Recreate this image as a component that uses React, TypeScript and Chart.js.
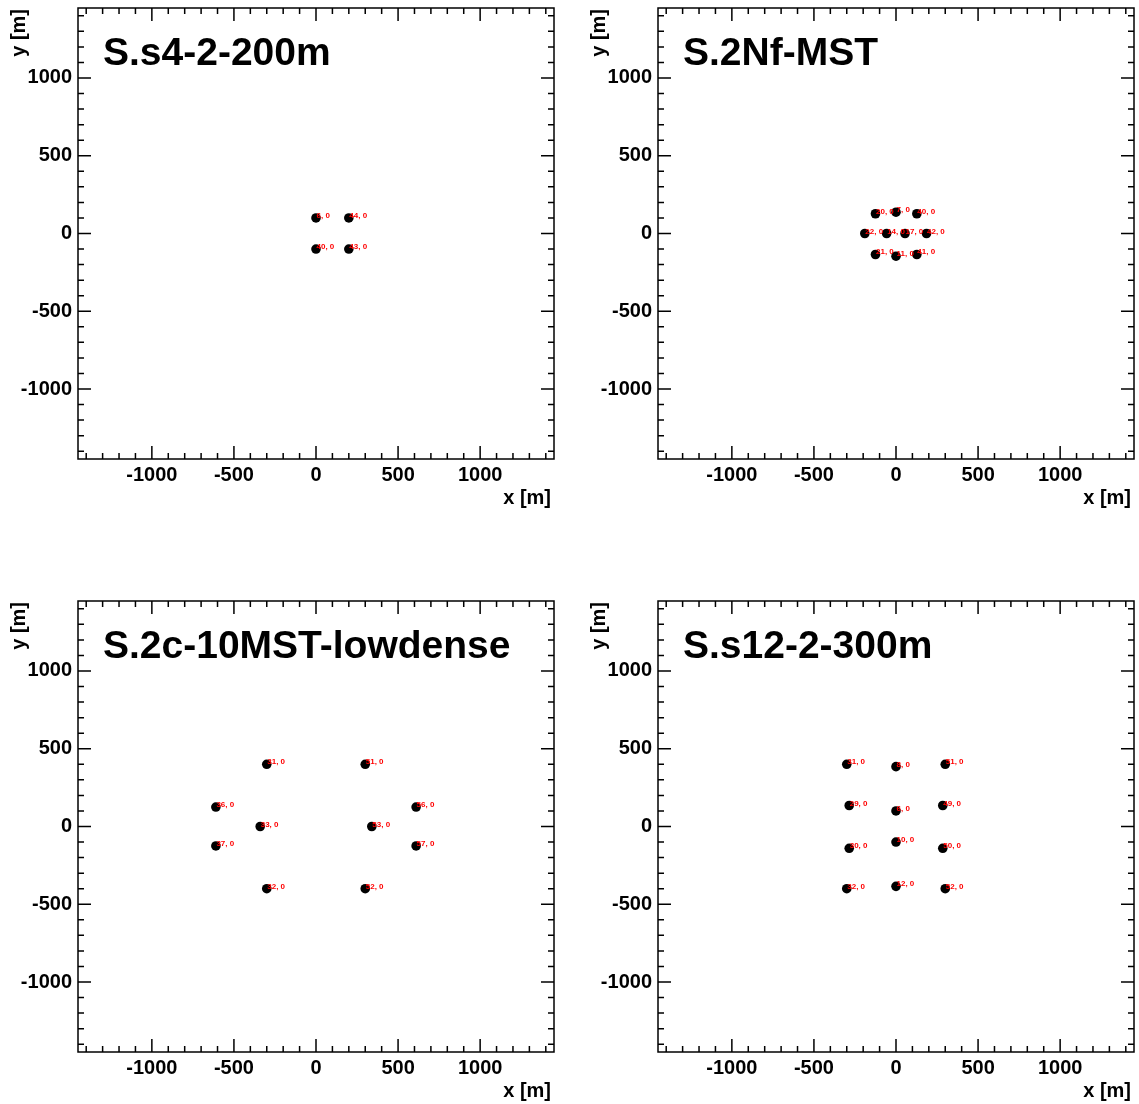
import React, { useEffect, useRef } from "react";
import { Chart, registerables } from "chart.js";

Chart.register(...registerables);

// ---------- data ----------
const tickValues = [-1000, -500, 0, 500, 1000];
const axisMin = -1450;
const axisMax = 1450;

const s4Title = "S.s4-2-200m";
const s4X = [0, 200, 0, 200];
const s4Y = [100, 100, -100, -100];
const s4Labels = ["6, 0", "44, 0", "40, 0", "43, 0"];

const nfTitle = "S.2Nf-MST";
const nfX = [-125, 0, 127, -190, -57, 55, 186, -125, 0, 127];
const nfY = [127, 137, 127, 0, 0, 0, 0, -135, -146, -135];
const nfLabels = ["20, 0", "7, 0", "40, 0", "22, 0", "14, 0", "17, 0", "42, 0", "21, 0", "11, 0", "41, 0"];

const c10Title = "S.2c-10MST-lowdense";
const c10X = [-300, -610, -340, -610, -300, 300, 610, 340, 610, 300];
const c10Y = [400, 125, 0, -125, -400, 400, 125, 0, -125, -400];
const c10Labels = ["31, 0", "36, 0", "33, 0", "37, 0", "32, 0", "51, 0", "56, 0", "53, 0", "57, 0", "52, 0"];

const s12Title = "S.s12-2-300m";
const s12X = [-300, 0, 300, -285, 0, 285, -285, 0, 285, -300, 0, 300];
const s12Y = [400, 385, 400, 135, 100, 135, -140, -100, -140, -400, -385, -400];
const s12Labels = ["31, 0", "8, 0", "51, 0", "29, 0", "6, 0", "49, 0", "30, 0", "10, 0", "50, 0", "32, 0", "12, 0", "52, 0"];

const FONT = "'Liberation Sans', Arial, Helvetica, sans-serif";
const CW = 559;
const CH = 511;

const framePlugin = {
  id: "rootFrame",
  afterDraw(chart: any) {
    const ctx = chart.ctx;
    const a = chart.chartArea;
    const xs = chart.scales.x;
    const ys = chart.scales.y;
    const opts = chart.options.plugins.rootFrame || {};
    ctx.save();
    ctx.strokeStyle = "#000";
    ctx.lineWidth = 1.5;
    ctx.strokeRect(a.left, a.top, a.right - a.left, a.bottom - a.top);
    ctx.beginPath();
    for (let v = -1400; v <= 1400; v += 100) {
      const major = v % 500 === 0;
      const lx = major ? 13 : 6;
      const px = xs.getPixelForValue(v);
      ctx.moveTo(px, a.bottom);
      ctx.lineTo(px, a.bottom - lx);
      ctx.moveTo(px, a.top);
      ctx.lineTo(px, a.top + lx);
      const py = ys.getPixelForValue(v);
      ctx.moveTo(a.left, py);
      ctx.lineTo(a.left + lx, py);
      ctx.moveTo(a.right, py);
      ctx.lineTo(a.right - lx, py);
    }
    ctx.stroke();

    // point labels
    const ds = chart.data.datasets[0];
    const labels: string[] = opts.labels || [];
    ctx.fillStyle = "#ff0000";
    ctx.font = "bold 8px " + FONT;
    ctx.textAlign = "left";
    ctx.textBaseline = "alphabetic";
    ds.data.forEach((p: any, i: number) => {
      const px = xs.getPixelForValue(p.x);
      const py = ys.getPixelForValue(p.y);
      ctx.fillText(labels[i] || "", px + 0.5, py);
    });

    // panel title
    ctx.fillStyle = "#000";
    ctx.font = "bold 39px " + FONT;
    ctx.textBaseline = "alphabetic";
    ctx.fillText(opts.title || "", a.left + 25, a.top + 57);

    // axis titles
    ctx.font = "bold 20px " + FONT;
    ctx.textAlign = "right";
    ctx.textBaseline = "middle";
    ctx.fillText("x [m]", a.right - 3, a.bottom + 39);
    ctx.translate(19, a.top + 1);
    ctx.rotate(-Math.PI / 2);
    ctx.fillText("y [m]", 0, 0);
    ctx.restore();
  },
};

function Panel(props: { xs: number[]; ys: number[]; labels: string[]; title: string; left: number; top: number }) {
  const ref = useRef<HTMLCanvasElement | null>(null);
  useEffect(() => {
    if (!ref.current) return;
    const data = props.xs.map((x, i) => ({ x, y: props.ys[i] }));
    const fixedTicks = (scale: any) => {
      scale.ticks = tickValues.map((v) => ({ value: v }));
    };
    const chart = new Chart(ref.current, {
      type: "scatter",
      data: {
        datasets: [
          {
            data,
            pointRadius: 4.8,
            pointHoverRadius: 4.8,
            backgroundColor: "#000",
            borderWidth: 0,
          },
        ],
      },
      options: {
        responsive: false,
        animation: false,
        events: [],
        layout: { padding: { top: 8, right: 5, left: 0, bottom: 0 } },
        plugins: {
          legend: { display: false },
          tooltip: { enabled: false },
          rootFrame: { labels: props.labels, title: props.title },
        } as any,
        scales: {
          x: {
            type: "linear",
            min: axisMin,
            max: axisMax,
            afterBuildTicks: fixedTicks,
            afterFit: (scale: any) => {
              scale.height = 52;
              scale.paddingLeft = 0;
              scale.paddingRight = 0;
            },
            grid: { display: false, drawTicks: false, tickLength: 0 },
            border: { display: false },
            ticks: {
              autoSkip: false,
              maxRotation: 0,
              padding: 4,
              color: "#000",
              font: { family: FONT, size: 20, weight: "bold" },
              callback: (v: any) => String(v),
            },
          },
          y: {
            type: "linear",
            min: axisMin,
            max: axisMax,
            afterBuildTicks: fixedTicks,
            afterFit: (scale: any) => {
              scale.width = 78;
              scale.paddingTop = 0;
              scale.paddingBottom = 0;
            },
            grid: { display: false, drawTicks: false, tickLength: 0 },
            border: { display: false },
            ticks: {
              autoSkip: false,
              padding: 6,
              color: "#000",
              font: { family: FONT, size: 20, weight: "bold" },
              callback: (v: any) => String(v),
            },
          },
        },
      } as any,
      plugins: [framePlugin],
    });
    return () => chart.destroy();
  }, []);
  return (
    <div style={{ position: "fixed", left: props.left, top: props.top, width: CW, height: CH }}>
      <canvas ref={ref} width={CW} height={CH} style={{ display: "block", width: CW, height: CH }} />
    </div>
  );
}

export default function App() {
  return (
    <div>
      <Panel xs={s4X} ys={s4Y} labels={s4Labels} title={s4Title} left={0} top={0} />
      <Panel xs={nfX} ys={nfY} labels={nfLabels} title={nfTitle} left={580} top={0} />
      <Panel xs={c10X} ys={c10Y} labels={c10Labels} title={c10Title} left={0} top={593} />
      <Panel xs={s12X} ys={s12Y} labels={s12Labels} title={s12Title} left={580} top={593} />
    </div>
  );
}
